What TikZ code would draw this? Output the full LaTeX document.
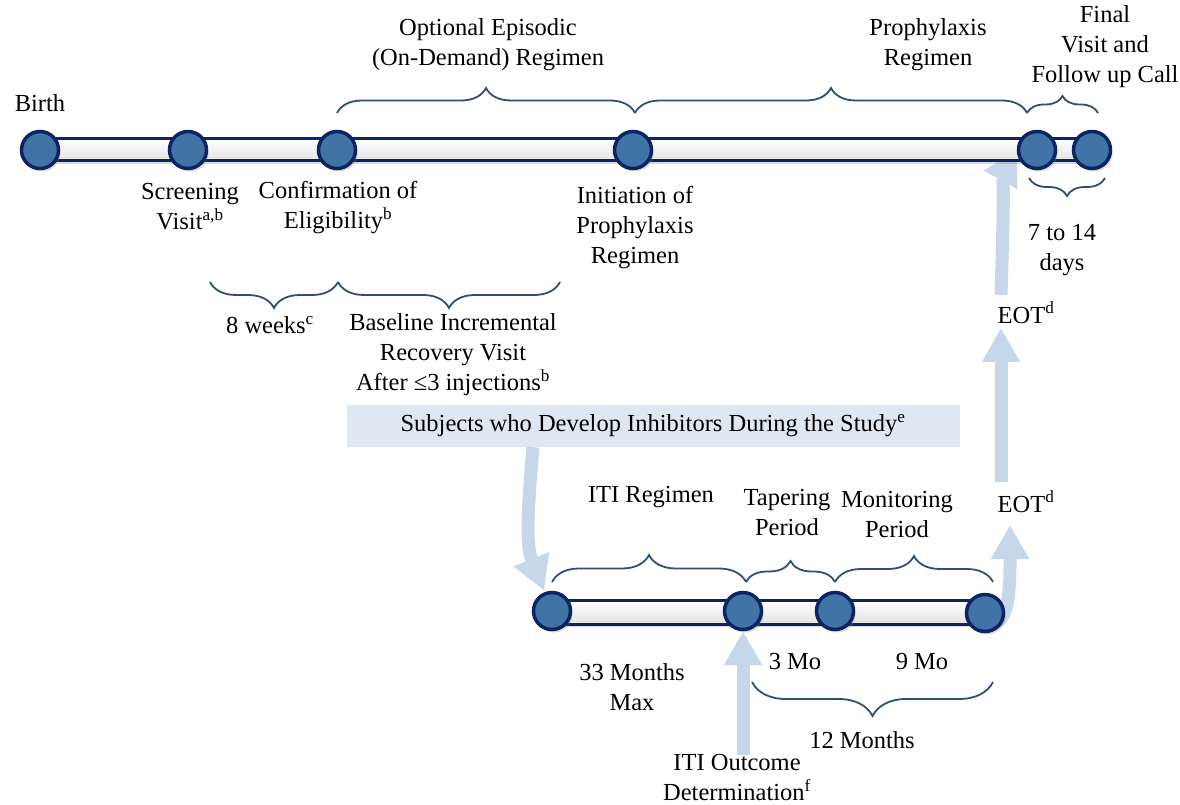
\documentclass[tikz,border=0pt]{standalone}
\usepackage{fontspec}
\setmainfont{Liberation Serif}
\usetikzlibrary{arrows.meta,decorations.pathreplacing,shadows,backgrounds}

\definecolor{navy}{RGB}{12,36,97}
\definecolor{dotblue}{RGB}{64,115,166}
\definecolor{bracecol}{RGB}{47,79,118}
\definecolor{flowblue}{RGB}{197,215,233}
\definecolor{boxblue}{RGB}{222,232,242}

\begin{document}
\begin{tikzpicture}[
        x=1pt, y=-1pt,
        every node/.style={font=\fontsize{24.5}{30}\selectfont, inner sep=0pt},
        dot/.style={circle, draw=navy, fill=dotblue, line width=3.5pt, minimum size=37pt, drop shadow={shadow xshift=2pt, shadow yshift=-3pt, opacity=0.3}},
        bar/.style={draw=navy, line width=3pt, top color=white, bottom color=gray!22, drop shadow={shadow xshift=1pt, shadow yshift=-3pt, opacity=0.3}},
        brc/.style={decorate, decoration={brace, amplitude=#1}, draw=bracecol, line width=1.8pt},
        brc/.default=25pt,
        brcdown/.style={decorate, decoration={brace, mirror, amplitude=#1}, draw=bracecol, line width=1.8pt},
        flow/.style={draw=flowblue, line width=13pt, -{Triangle[width=36pt, length=34pt]}},
        txt/.style={align=center},
        subjbox/.style={fill=boxblue, minimum width=613pt, minimum height=42pt}
    ]
        \useasboundingbox (0,0) rectangle (1180,805);

        % Main timeline
        \node[dot] (birth) at (40,150) {};
        \node[dot] (scr) at (188,150) {};
        \node[dot] (conf) at (337,150) {};
        \node[dot] (init) at (633,150) {};
        \node[dot] (eot) at (1037,150) {};
        \node[dot] (final) at (1092,150) {};

        \node[txt] (birthlbl) at (40,103) {Birth};
        \node[txt] (optlbl) at (488,45) {Optional Episodic\\(On-Demand) Regimen};
        \node[txt] (prolbl) at (928,45) {Prophylaxis\\Regimen};
        \node[txt] (finlbl) at (1105,47) {Final\\Visit and\\Follow up Call};
        \node[txt] (scrlbl) at (190,207) {Screening\\Visit\textsuperscript{a,b}};
        \node[txt] (conflbl) at (338,208) {Confirmation of\\Eligibility\textsuperscript{b}};
        \node[txt] (initlbl) at (635,228) {Initiation of\\Prophylaxis\\Regimen};
        \node[txt] (dayslbl) at (1062,250) {7 to 14\\days};
        \node[txt] (wklbl) at (270,325) {8 weeks\textsuperscript{c}};
        \node[txt] (baselbl) at (453,355) {Baseline Incremental\\Recovery Visit\\After ≤3 injections\textsuperscript{b}};

        % Inhibitor box
        \node[subjbox] (subj) at (653,426) {Subjects who Develop Inhibitors During the Study\textsuperscript{e}};

        % ITI timeline
        \node[dot] (iti) at (552,611) {};
        \node[dot] (taper) at (743,611) {};
        \node[dot] (monit) at (835,611) {};
        \node[dot] (enditi) at (985,613) {};

        \node[txt] (itilbl) at (651,497) {ITI Regimen};
        \node[txt] (taplbl) at (787,513) {Tapering\\Period};
        \node[txt] (monlbl) at (897,515) {Monitoring\\Period};
        \node[txt] (maxlbl) at (632,687) {33 Months\\Max};
        \node[txt] (mo3lbl) at (795,662) {3 Mo};
        \node[txt] (mo9lbl) at (922,662) {9 Mo};
        \node[txt] (mo12lbl) at (862,740) {12 Months};
        \node[txt] (outlbl) at (737,778) {ITI Outcome\\Determination\textsuperscript{f}};
        \node[txt, anchor=base] (eotlo) at (1026,512) {EOT\textsuperscript{d}};
        \node[txt, anchor=base] (eotup) at (1026,323) {EOT\textsuperscript{d}};

        % Braces
        \draw[brc] (337,113) -- (635,113);
        \draw[brc] (635,113) -- (1027,113);
        \draw[brc=17pt] (1027,113) -- (1098,113);
        \draw[brcdown=26pt] (210,282) -- (338,282);
        \draw[brcdown=26pt] (338,282) -- (560,282);
        \draw[brcdown=18pt] (1029,178) -- (1105,178);
        \draw[brc=27pt] (552,582) -- (746,582);
        \draw[brc=21pt] (746,582) -- (835,582);
        \draw[brc=26pt] (835,582) -- (993,582);
        \draw[brcdown=34pt] (752,682) -- (993,682);

        \begin{scope}[on background layer]
            % Flow arrows
            \draw[flow] ([xshift=-120pt]subj.south) .. controls +(-6,70) and +(-18,-45) .. ([xshift=-8pt]iti.north);
            \draw[flow] (outlbl.north -| taper) -- (taper.south);
            \draw[flow] ([shift={(8pt,-10pt)}]enditi.center) .. controls +(18,0) and +(0,50) .. ([xshift=-16pt,yshift=-13pt]eotlo.base);
            \draw[flow] ([xshift=-25pt,yshift=30pt]eotlo.base) -- ([xshift=-25pt,yshift=-5pt]eotup.base);
            \draw[flow] ([xshift=-25pt,yshift=28pt]eotup.base) .. controls +(2,-70) and +(-12,22) .. (eot.west);
            % Bars
            \draw[bar] ([yshift=11pt]birth.center) rectangle ([yshift=-11pt]final.center);
            \draw[bar] ([yshift=11pt]iti.center) rectangle ([yshift=-11pt]enditi.center);
        \end{scope}
    \end{tikzpicture}
\end{document}
